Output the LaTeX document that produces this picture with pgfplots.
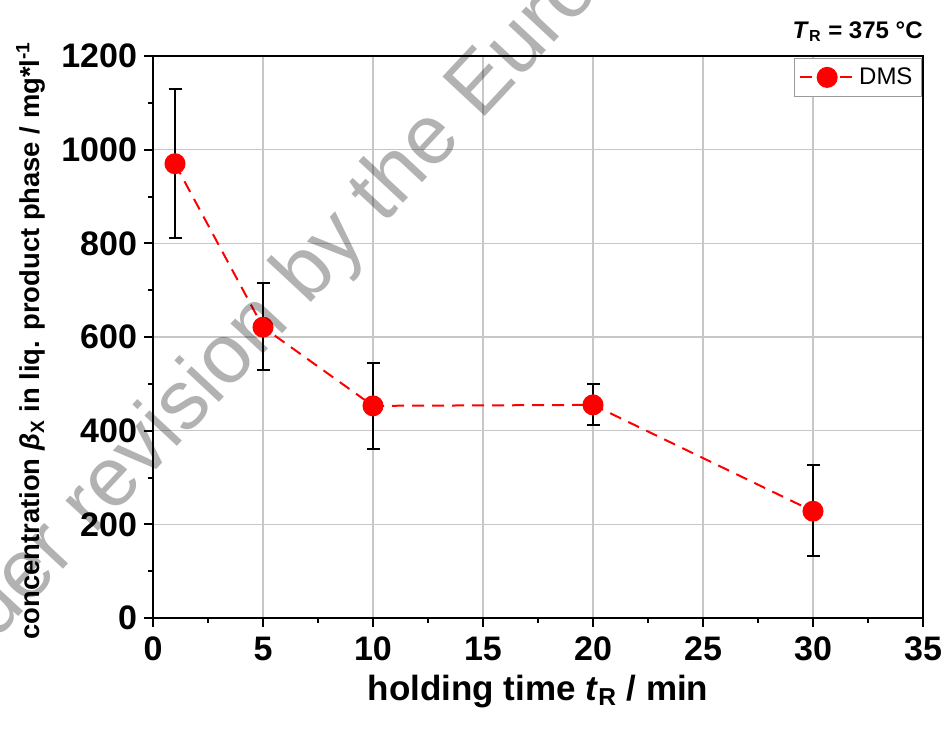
\documentclass[border=0pt]{standalone}
\usepackage{pgfplots}
\pgfplotsset{compat=1.18}
\usepackage{pgfplotstable}
\usepackage{fontspec}
\setmainfont{Liberation Sans}

\pgfplotstableread{
x y ep em
1 970 160 159
5 621 94 91
10 453 91 92
20 455 45 43
30 228 99 96
}\dms

\begin{document}
\begin{tikzpicture}
\path[use as bounding box] (0pt,0pt) rectangle (473pt,367.5pt);
\begin{axis}[
  at={(76.5pt,58.5pt)}, anchor=south west,
  scale only axis, width=385pt, height=281pt,
  xmin=0, xmax=35, ymin=0, ymax=1200,
  xtick={0,5,...,35}, ytick={0,200,...,1200},
  minor x tick num=1, minor y tick num=1,
  tick pos=left, tick align=outside,
  major tick length=4.5pt, minor tick length=2.5pt,
  every tick/.style={black, line width=1pt},
  axis line style={line width=1.25pt},
  grid=major,
  major grid style={line width=0.6pt, color=black!22},
  /pgf/number format/assume math mode=true,
  /pgf/number format/1000 sep={},
  ticklabel style={font=\fontsize{17}{20}\selectfont\bfseries},
  xticklabel style={yshift=-1.5pt},
  xlabel={holding time \textit{t}\textsubscript{R} / min},
  xlabel style={font=\fontsize{17.5}{20}\selectfont\bfseries, at={(axis description cs:0.5,0)}, anchor=base, yshift=-41pt},
  ylabel={concentration \textit{β}\textsubscript{X} in liq. product phase / mg*l\textsuperscript{-1}},
  ylabel style={font=\fontsize{13.7}{16}\selectfont\bfseries, at={(axis description cs:0,0.5)}, anchor=center, yshift=61pt, xshift=-1.75pt},
  legend style={at={(1,1)}, anchor=north east, yshift=-1pt, xshift=-0.5pt, draw=black!40, line width=0.5pt, font=\fontsize{12}{14}\selectfont, inner sep=2.5pt},
  legend image code/.code={\draw[#1, mark repeat=2, mark phase=2] plot coordinates {(0pt,0pt) (13.5pt,0pt) (27pt,0pt)};},
  clip=false,
]
\addplot[red, line width=1pt, dash pattern=on 6pt off 4pt,
  mark=*, mark size=4.75pt, mark options={solid, fill=red, draw=red},
  error bars/.cd, y dir=both, y explicit,
  error bar style={black, line width=1.1pt, solid},
  error mark options={rotate=90, mark size=3.25pt, line width=1.1pt, black, solid}]
  table[x=x, y=y, y error plus=ep, y error minus=em] {\dms};
\addlegendentry{DMS}
\node[anchor=base east, font=\fontsize{12}{14}\selectfont\bfseries, inner sep=0pt] at (rel axis cs:1,1) [yshift=9pt] {\textit{T}\textsubscript{R} = 375 °C};
\end{axis}
\node[rotate=47, anchor=base west, inner sep=0pt, text=black, text opacity=0.3, font=\fontsize{42}{50}\selectfont] at (240pt,306.5pt) {European Journal};
\node[rotate=47, anchor=base east, inner sep=0pt, text=black, text opacity=0.3, font=\fontsize{42}{50}\selectfont] at (240pt,306.5pt) {Under revision by the\kern0.28em};
\end{tikzpicture}
\end{document}
